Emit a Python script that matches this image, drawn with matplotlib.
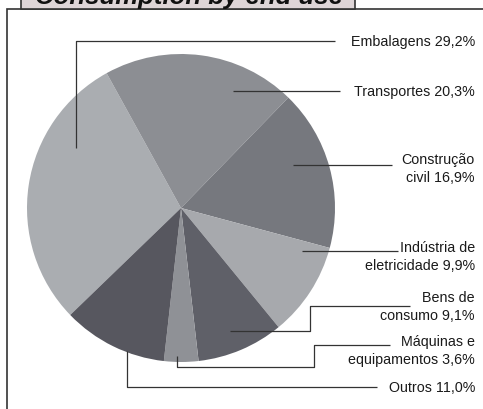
import matplotlib.pyplot as plt
from matplotlib.patches import Rectangle

plt.rcParams['font.family'] = ['Liberation Sans', 'DejaVu Sans']

# Data
labels = ["Embalagens 29,2%", "Transportes 20,3%", "Construção\ncivil 16,9%",
          "Indústria de\neletricidade 9,9%", "Bens de\nconsumo 9,1%",
          "Máquinas e\nequipamentos 3,6%", "Outros 11,0%"]
values = [29.2, 20.3, 16.9, 9.9, 9.1, 3.6, 11.0]
colors = ["#aaadb1", "#8c8e93", "#76787e", "#a7a9ad", "#5f6068", "#8f9196", "#57575f"]

W, H = 483, 410
px = 1 / 100


def Y(y):
    # image pixel row -> axis y (y up)
    return H - y


fig = plt.figure(figsize=(W * px, H * px), dpi=100)
ax = fig.add_axes([0, 0, 1, 1])

# the pie
ax.pie(values, colors=colors, startangle=224, counterclock=False,
       center=(181, Y(209)), radius=154, frame=True,
       wedgeprops=dict(linewidth=0))
ax.set_xlim(0, W)
ax.set_ylim(0, H)
ax.set_aspect('equal')
ax.axis('off')

# outer frame and title tab (title is cut by the top edge, as in the scan)
ax.add_patch(Rectangle((7, Y(420)), 490, 410, fill=False, edgecolor='#333333', lw=1.2))
ax.add_patch(Rectangle((21, Y(10)), 334, 20, facecolor='#ded5d7', edgecolor='#333333', lw=1.2))
ax.text(35, Y(4), "Consumption by end use", fontsize=18.5, fontweight='bold',
        fontstyle='italic', ha='left', va='baseline', color='#111111')

# leader line paths (image pixels) and label anchor rows
leaders = [
    [(76, 149), (76, 42), (335, 42)],
    [(233, 92), (340, 92)],
    [(293, 166), (392, 166)],
    [(302, 252), (398, 252)],
    [(230, 332), (310, 332), (310, 307), (410, 307)],
    [(177, 357), (177, 368), (314, 368), (314, 346), (390, 346)],
    [(127, 352), (127, 388), (377, 388)],
]
label_y = [42, 92, 169, 257, 307, 351, 388]

for path, lab, ly in zip(leaders, labels, label_y):
    xs = [p[0] for p in path]
    ys = [Y(p[1]) for p in path]
    ax.plot(xs, ys, color='#333333', lw=0.9, solid_capstyle='butt')
    ax.text(475, Y(ly), lab, fontsize=10.3, ha='right', va='center',
            multialignment='right', linespacing=1.3, color='#1a1a1a')

fig.savefig('out.png', dpi=100)
